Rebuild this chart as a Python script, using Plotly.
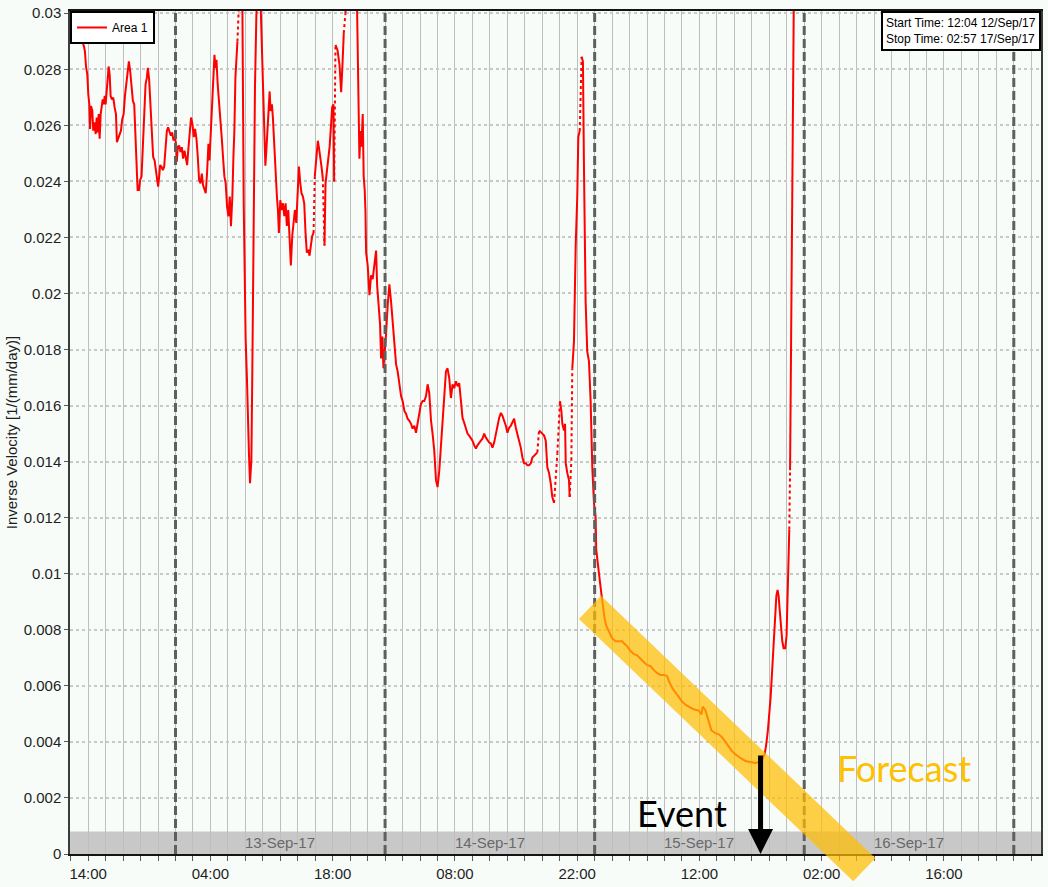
import datetime as dt
import plotly.graph_objects as go

# hours after 00:00 12/Sep/17, inverse velocity in 1/(mm/day)
hours = [12.07, 13.26, 13.52, 13.63, 13.75, 13.90, 14.01, 14.13, 14.21, 14.32,
         14.47, 14.58, 14.70, 14.86, 14.97, 15.09, 15.20, 15.31, 15.43, 15.54,
         15.66, 15.77, 15.89, 16.00, 16.11, 16.23, 16.34, 16.46, 16.57, 16.72,
         16.87, 17.03, 17.18, 17.29, 17.44, 17.60, 17.75, 17.90, 18.06, 18.21,
         18.35, 18.51, 18.66, 18.81, 18.97, 19.12, 19.27, 19.43, 19.54, 19.66,
         19.81, 19.95, 20.11, 20.26, 20.41, 20.57, 20.72, 20.83, 20.98, 21.14,
         21.29, 21.44, 21.60, 21.75, 21.90, 22.01, 22.13, 22.24, 22.40, 22.55,
         22.70, 22.86, 23.01, 23.15, 23.31, 23.46, 23.61, 23.77, 23.92, 24.07,
         24.15, 24.26, 24.41, 24.57, 24.72, 24.87, 25.03, 25.18, 25.33, 25.49,
         25.63, 25.78, 25.94, 26.09, 26.24, 26.40, 26.55, 26.70, 26.86, 27.01,
         27.15, 27.31, 27.46, 27.61, 27.77, 27.89, 28.03, 28.18, 28.34, 28.46,
         28.57, 28.69, 28.83, 28.98, 29.14, 29.29, 29.44, 29.60, 29.75, 29.90,
         30.06, 30.21, 30.35, 30.51, 30.63, 30.74, 30.86, 30.97, 31.09, 31.35,
         31.66, 31.81, 31.92, 32.03, 32.18, 32.30, 32.41, 32.53, 32.69, 32.80,
         32.95, 33.10, 33.26, 33.41, 33.75, 33.86, 34.01, 34.17, 34.29, 34.40,
         34.55, 34.66, 34.78, 34.89, 35.04, 35.15, 35.31, 35.46, 35.61, 35.73,
         35.84, 36.00, 36.15, 36.30, 36.46, 36.61, 36.75, 36.91, 37.06, 37.21,
         37.37, 37.52, 37.67, 37.83, 37.98, 38.13, 38.29, 38.43, 38.58, 38.74,
         38.89, 39.04, 39.20, 39.35, 39.50, 39.66, 39.81, 39.95, 40.11, 40.30,
         40.41, 40.57, 40.72, 40.87, 41.06, 41.18, 41.65, 41.94, 42.09, 42.17,
         42.32, 42.55, 42.78, 42.97, 43.12, 43.27, 43.46, 43.58, 44.66, 44.80,
         44.91, 44.98, 45.06, 45.18, 45.29, 45.44, 45.55, 45.67, 45.75, 45.83,
         46.01, 46.21, 46.40, 46.58, 46.78, 46.97, 47.09, 47.23, 47.43, 47.54,
         47.69, 47.81, 47.92, 48.11, 48.30, 48.49, 48.69, 48.87, 49.06, 49.26,
         49.44, 49.63, 49.83, 50.01, 50.21, 50.40, 50.58, 50.78, 50.97, 51.15,
         51.35, 51.54, 51.73, 51.92, 52.11, 52.30, 52.49, 52.69, 52.87, 53.06,
         53.26, 53.44, 53.63, 53.83, 54.01, 54.21, 54.40, 54.58, 54.78, 54.97,
         55.15, 55.35, 55.54, 55.73, 55.92, 56.11, 56.30, 56.49, 56.69, 56.87,
         57.06, 57.26, 57.44, 57.63, 57.83, 58.01, 58.21, 58.40, 58.58, 58.78,
         58.97, 59.15, 59.35, 59.54, 59.73, 59.92, 60.11, 60.30, 60.49, 60.69,
         60.87, 61.06, 61.26, 61.44, 61.63, 61.83, 62.01, 62.21, 62.40, 62.58,
         62.78, 62.97, 63.15, 63.35, 63.54, 63.73, 63.92, 64.11, 64.30, 64.49,
         64.69, 64.87, 65.06, 65.26, 65.44, 65.63, 65.83, 66.01, 66.21, 66.40,
         66.58, 66.78, 66.97, 67.15, 67.35, 67.73, 68.03, 68.19, 68.30, 68.49,
         68.61, 68.69, 68.87, 69.06, 69.14, 69.33, 69.44, 69.63, 69.83, 70.01,
         70.13, 70.29, 70.51, 70.66, 70.78, 70.97, 71.15, 71.35, 71.54, 71.73,
         71.92, 72.11, 72.18, 72.37, 72.57, 72.80, 72.98, 73.14, 73.33, 73.63,
         74.01, 74.40, 74.78, 75.15, 75.35, 75.73, 76.11, 76.49, 76.87, 77.26,
         77.63, 78.01, 78.40, 78.78, 79.15, 79.54, 79.92, 80.30, 80.49, 80.87,
         81.26, 81.63, 82.01, 82.40, 82.78, 83.15, 83.54, 83.92, 84.23, 84.38,
         84.69, 85.06, 85.37, 85.83, 86.21, 86.59, 86.97, 87.35, 87.73, 88.11,
         88.49, 88.87, 89.26, 89.83, 90.40, 90.78, 91.23, 91.46, 91.61, 91.84,
         92.00, 92.15, 92.30, 92.49, 92.61, 92.69, 92.81, 92.95, 93.07, 93.18,
         93.33, 93.49, 93.64, 93.83, 93.98, 94.10, 94.21, 94.29, 94.38, 94.49,
         94.61, 94.72, 94.83]

velocity = [0.02975, 0.02905, 0.02881, 0.02863, 0.02810, 0.02781, 0.02711, 0.02675, 0.02587, 0.02669,
            0.02652, 0.02581, 0.02611, 0.02569, 0.02628, 0.02575, 0.02640, 0.02552, 0.02640, 0.02664,
            0.02693, 0.02675, 0.02705, 0.02675, 0.02711, 0.02746, 0.02810, 0.02781, 0.02705, 0.02693,
            0.02699, 0.02664, 0.02640, 0.02540, 0.02552, 0.02569, 0.02581, 0.02622, 0.02640, 0.02705,
            0.02740, 0.02787, 0.02828, 0.02793, 0.02740, 0.02687, 0.02675, 0.02569, 0.02475, 0.02369,
            0.02369, 0.02405, 0.02417, 0.02510, 0.02628, 0.02746, 0.02770, 0.02805, 0.02764, 0.02675,
            0.02569, 0.02487, 0.02475, 0.02440, 0.02417, 0.02381, 0.02417, 0.02458, 0.02452, 0.02440,
            0.02452, 0.02510, 0.02581, 0.02593, 0.02575, 0.02563, 0.02575, 0.02546, 0.02558, 0.02534,
            0.02470, 0.02522, 0.02528, 0.02505, 0.02522, 0.02481, 0.02510, 0.02487, 0.02458, 0.02522,
            0.02587, 0.02628, 0.02605, 0.02558, 0.02587, 0.02552, 0.02487, 0.02405, 0.02393, 0.02428,
            0.02387, 0.02369, 0.02358, 0.02428, 0.02534, 0.02475, 0.02569, 0.02675, 0.02746, 0.02852,
            0.02805, 0.02834, 0.02746, 0.02687, 0.02640, 0.02558, 0.02487, 0.02417, 0.02393, 0.02311,
            0.02275, 0.02346, 0.02240, 0.02346, 0.02487, 0.02581, 0.02770, 0.02863, 0.02899, 0.03100,
            0.03020, 0.02322, 0.02029, 0.01839, 0.01698, 0.01500, 0.01429, 0.01323, 0.01405, 0.01733,
            0.02322, 0.02735, 0.02993, 0.03100, 0.03030, 0.02912, 0.02675, 0.02534, 0.02456, 0.02509,
            0.02594, 0.02665, 0.02721, 0.02651, 0.02675, 0.02629, 0.02524, 0.02393, 0.02347, 0.02298,
            0.02216, 0.02333, 0.02298, 0.02322, 0.02276, 0.02322, 0.02241, 0.02298, 0.02181, 0.02100,
            0.02206, 0.02262, 0.02298, 0.02252, 0.02368, 0.02453, 0.02393, 0.02358, 0.02347, 0.02322,
            0.02216, 0.02146, 0.02156, 0.02135, 0.02171, 0.02206, 0.02216, 0.02418, 0.02488, 0.02545,
            0.02524, 0.02474, 0.02453, 0.02411, 0.02171, 0.02393, 0.02524, 0.02665, 0.02675, 0.02400,
            0.02887, 0.02869, 0.02816, 0.02718, 0.02816, 0.02929, 0.03000, 0.03100, 0.03100, 0.03004,
            0.02792, 0.02615, 0.02481, 0.02580, 0.02524, 0.02640, 0.02418, 0.02368, 0.02298, 0.02146,
            0.02100, 0.01994, 0.02065, 0.02051, 0.02111, 0.02153, 0.02029, 0.01969, 0.01888, 0.01768,
            0.01846, 0.01733, 0.01768, 0.01853, 0.01959, 0.02033, 0.01969, 0.01899, 0.01853, 0.01747,
            0.01722, 0.01676, 0.01634, 0.01616, 0.01581, 0.01571, 0.01553, 0.01546, 0.01535, 0.01518,
            0.01528, 0.01503, 0.01535, 0.01571, 0.01606, 0.01616, 0.01616, 0.01634, 0.01676, 0.01645,
            0.01546, 0.01500, 0.01440, 0.01334, 0.01309, 0.01369, 0.01465, 0.01556, 0.01641, 0.01722,
            0.01733, 0.01698, 0.01627, 0.01676, 0.01662, 0.01687, 0.01669, 0.01680, 0.01616, 0.01556,
            0.01539, 0.01521, 0.01500, 0.01493, 0.01482, 0.01475, 0.01458, 0.01447, 0.01458, 0.01465,
            0.01475, 0.01482, 0.01500, 0.01486, 0.01475, 0.01468, 0.01465, 0.01450, 0.01468, 0.01500,
            0.01535, 0.01556, 0.01574, 0.01564, 0.01546, 0.01528, 0.01503, 0.01521, 0.01528, 0.01539,
            0.01553, 0.01521, 0.01500, 0.01475, 0.01450, 0.01415, 0.01394, 0.01394, 0.01387, 0.01387,
            0.01394, 0.01415, 0.01422, 0.01429, 0.01433, 0.01511, 0.01503, 0.01500, 0.01493, 0.01475,
            0.01380, 0.01359, 0.01323, 0.01274, 0.01253, 0.01429, 0.01616, 0.01581, 0.01535, 0.01511,
            0.01535, 0.01394, 0.01359, 0.01334, 0.01274, 0.01405, 0.01733, 0.01828, 0.02171, 0.02347,
            0.02559, 0.02580, 0.02845, 0.02827, 0.02439, 0.01969, 0.01793, 0.01758, 0.01616, 0.01380,
            0.01253, 0.01204, 0.01087, 0.01027, 0.00981, 0.00921, 0.00875, 0.00840, 0.00815, 0.00794,
            0.00769, 0.00759, 0.00759, 0.00759, 0.00752, 0.00741, 0.00724, 0.00713, 0.00709, 0.00695,
            0.00685, 0.00674, 0.00671, 0.00656, 0.00646, 0.00639, 0.00639, 0.00635, 0.00618, 0.00593,
            0.00575, 0.00558, 0.00544, 0.00533, 0.00526, 0.00519, 0.00515, 0.00512, 0.00498, 0.00526,
            0.00512, 0.00476, 0.00441, 0.00431, 0.00427, 0.00417, 0.00399, 0.00381, 0.00367, 0.00356,
            0.00346, 0.00339, 0.00332, 0.00328, 0.00325, 0.00328, 0.00339, 0.00356, 0.00381, 0.00441,
            0.00498, 0.00558, 0.00639, 0.00734, 0.00794, 0.00875, 0.00921, 0.00942, 0.00921, 0.00875,
            0.00815, 0.00759, 0.00734, 0.00734, 0.00780, 0.00911, 0.01087, 0.01158, 0.01369, 0.01793,
            0.02393, 0.03000, 0.03130]

# readings reached across a data gap (drawn dotted from the previous reading)
dotted_to = [31.35, 39.95, 41.06, 42.32, 43.46, 43.58, 65.63, 67.73, 68.03,
             69.33, 69.44, 70.51, 94.38]

day_lines = ["2017-09-13", "2017-09-14", "2017-09-15", "2017-09-16", "2017-09-17"]
day_labels = ["13-Sep-17", "14-Sep-17", "15-Sep-17", "16-Sep-17"]
x_range = ["2017-09-12 11:55", "2017-09-17 03:07"]
y_range = [0, 0.03008]
event_time = "2017-09-15 19:00"
forecast_from = ("2017-09-14 23:28", 0.0088)
forecast_to = ("2017-09-16 06:53", -0.00056)

t0 = dt.datetime(2017, 9, 12)
times = [t0 + dt.timedelta(hours=h) for h in hours]

sx, sy, dx, dy = [], [], [], []
for i, (t, v) in enumerate(zip(times, velocity)):
    if i and hours[i] in dotted_to:
        sx.append(None)
        sy.append(None)
        dx += [times[i - 1], t, None]
        dy += [velocity[i - 1], v, None]
    sx.append(t)
    sy.append(v)

fig = go.Figure()
fig.add_trace(go.Scatter(x=dx, y=dy, mode='lines', showlegend=False,
                         line=dict(color='rgb(255,0,0)', width=2, dash='dot'),
                         hoverinfo='skip'))
fig.add_trace(go.Scatter(x=sx, y=sy, mode='lines', name='Area 1',
                         line=dict(color='rgb(255,0,0)', width=2)))


def to_paper(t, v):
    a, b = [dt.datetime.fromisoformat(s) for s in x_range]
    return (dt.datetime.fromisoformat(t) - a) / (b - a), (v - y_range[0]) / (y_range[1] - y_range[0])


shapes = [dict(type='rect', xref='paper', yref='y', x0=0, x1=1, y0=0, y1=0.0008,
               fillcolor='rgb(200,200,200)', line_width=0, layer='below')]
for d in day_lines:
    shapes.append(dict(type='line', xref='x', yref='paper', x0=d, x1=d, y0=0, y1=1,
                       line=dict(color='rgb(95,95,95)', width=3, dash='9px,4px'),
                       layer='above'))
fx0, fy0 = to_paper(*forecast_from)
fx1, fy1 = to_paper(*forecast_to)
shapes.append(dict(type='line', xref='paper', yref='paper', x0=fx0, y0=fy0, x1=fx1, y1=fy1,
                   line=dict(color='rgba(255,190,0,0.72)', width=32), layer='above'))

annotations = []
for d, lab in zip(day_lines, day_labels):
    noon = dt.datetime.fromisoformat(d) + dt.timedelta(hours=12)
    annotations.append(dict(x=noon, y=0.0004, xref='x', yref='y', text=lab, showarrow=False,
                            font=dict(family='Liberation Sans', size=15, color='rgb(105,105,105)')))
annotations.append(dict(x=1, y=1, xref='paper', yref='paper', xanchor='right', yanchor='top',
                        text='Start Time: 12:04 12/Sep/17<br>Stop Time: 02:57 17/Sep/17',
                        align='left', showarrow=False, bgcolor='white', bordercolor='black',
                        borderwidth=2, borderpad=3,
                        font=dict(family='Liberation Sans', size=12, color='black')))
annotations.append(dict(x=event_time, y=0, xref='x', yref='y', ax=0, ay=-100, text='',
                        showarrow=True, arrowhead=2, arrowsize=1, arrowwidth=5,
                        arrowcolor='black', standoff=0))
annotations.append(dict(x='2017-09-15 10:00', y=0.00145, xref='x', yref='y', text='Event',
                        showarrow=False, font=dict(family='Lato', size=36, color='black')))
annotations.append(dict(x='2017-09-16 11:28', y=0.00307, xref='x', yref='y', text='Forecast',
                        showarrow=False, font=dict(family='Lato', size=36, color='rgb(255,192,0)')))

fig.update_layout(
    width=1048, height=887,
    margin=dict(l=70, r=5, t=8, b=28),
    paper_bgcolor='rgb(248,252,249)', plot_bgcolor='rgb(248,252,249)',
    font=dict(family='Liberation Sans', size=15, color='rgb(30,30,30)'),
    showlegend=True,
    legend=dict(x=0, y=1, xanchor='left', yanchor='top', bgcolor='white',
                bordercolor='black', borderwidth=2,
                font=dict(family='Liberation Sans', size=12, color='black')),
    shapes=shapes, annotations=annotations,
    xaxis=dict(type='date', range=x_range, tickformat='%H:%M',
               tick0='2017-09-12 14:00', dtick=14 * 3600 * 1000,
               ticks='outside', ticklen=5, tickcolor='rgb(90,90,90)',
               showgrid=True, gridcolor='rgb(190,190,190)', gridwidth=1.3,
               minor=dict(tick0='2017-09-12 00:00', dtick=2 * 3600 * 1000,
                          ticks='outside', ticklen=5, tickcolor='rgb(90,90,90)',
                          showgrid=True, gridcolor='rgb(190,190,190)', gridwidth=1.3),
               showline=True, linecolor='rgb(20,20,20)', linewidth=2, mirror=True,
               zeroline=False),
    yaxis=dict(range=y_range, dtick=0.002, tick0=0,
               ticks='outside', ticklen=4, tickcolor='rgb(90,90,90)',
               ticklabeloverflow='allow',
               showgrid=True, gridcolor='rgb(200,200,200)', gridwidth=1.5, griddash='dot',
               showline=True, linecolor='rgb(60,60,60)', linewidth=1.5, mirror=True,
               zeroline=False,
               title=dict(text='Inverse Velocity [1/(mm/day)]', standoff=2,
                          font=dict(size=15))),
)

fig.write_html("out.html", config={'displayModeBar': False},
               post_script="document.body.style.margin='0px';")
